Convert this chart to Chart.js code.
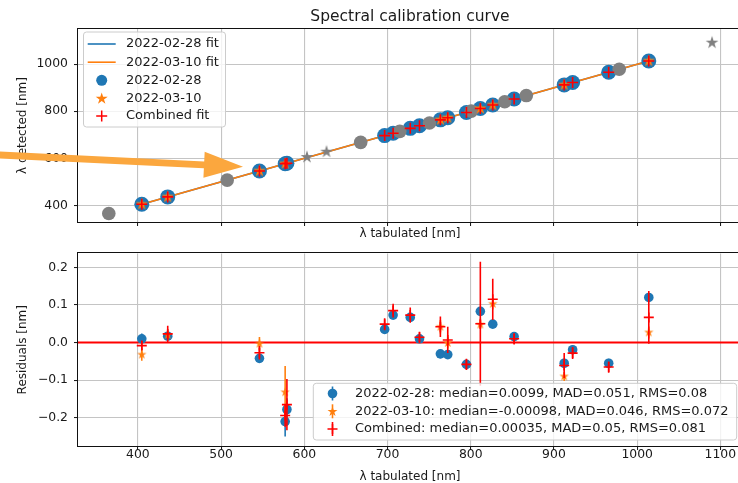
<!DOCTYPE html>
<html>
<head>
<meta charset="utf-8">
<script src="https://cdn.jsdelivr.net/npm/chart.js@4"></script>
<style>
  html, body { margin: 0; padding: 0; background: #fff; overflow: hidden; width: 738px; height: 483px; }
  #topChart { position: absolute; left: 0; top: 0; }
  #resChart { position: absolute; left: 0; top: 240px; }
</style>
</head>
<body>
<canvas id="topChart" width="750" height="240"></canvas>
<canvas id="resChart" width="750" height="243"></canvas>
<script>
// === Calibration lines (nm) ===
const linesA = [404.66, 435.83, 546.07, 576.96, 579.07, 696.54, 706.72, 727.29, 738.40, 763.51,
                772.38, 794.82, 811.53, 826.45, 852.14, 912.30, 922.45, 965.78, 1013.98];
const detectedA = [404.67, 435.85, 546.03, 576.75, 578.89, 696.58, 706.79, 727.36, 738.41, 763.48,
                   772.35, 794.76, 811.61, 826.50, 852.16, 912.25, 922.43, 965.73, 1014.10];
const linesB = [404.66, 435.83, 546.07, 576.96, 763.51, 772.38, 811.53, 826.45, 912.30, 1013.98];
const detectedB = [404.63, 435.85, 546.07, 576.83, 763.55, 772.38, 811.58, 826.55, 912.21, 1014.01];
const detectedC = [404.65, 435.85, 546.04, 576.77, 578.91, 696.59, 706.81, 727.36, 738.41, 763.55,
                   772.39, 794.76, 811.58, 826.57, 852.15, 912.24, 922.42, 965.72, 1014.05];
// lines found but not used in the fit
const unusedLines = [365.02, 507.30, 667.73, 714.70, 750.39, 800.62, 840.82, 866.79, 978.45];
const unusedDetected = [365.0, 507.3, 667.7, 714.7, 750.4, 800.6, 840.8, 866.8, 978.5];
const unusedStarLines = [603.21, 626.65, 1090.0];
const unusedStarDetected = [605, 628, 1092];
// fit lines
const fitRange = [404.66, 1013.98];
const fitA = [404.67, 1014.06];
const fitB = [404.64, 1014.02];

// === Residuals (nm) ===
const residA = [0.010, 0.017, -0.042, -0.210, -0.178, 0.035, 0.073, 0.067, 0.010, -0.030,
                -0.032, -0.058, 0.083, 0.049, 0.016, -0.055, -0.019, -0.055, 0.120];
const errA = [0.014, 0.010, 0.010, 0.040, 0.030, 0.010, 0.010, 0.012, 0.010, 0.012,
              0.010, 0.010, 0.012, 0.010, 0.012, 0.012, 0.012, 0.012, 0.012];
const residB = [-0.032, 0.020, -0.003, -0.132, 0.042, -0.001, 0.048, 0.103, -0.090, 0.027];
const errB = [0.016, 0.012, 0.018, 0.070, 0.018, 0.015, 0.012, 0.015, 0.012, 0.016];
const residC = [-0.008, 0.023, -0.027, -0.194, -0.165, 0.049, 0.085, 0.073, 0.014, 0.042,
                0.007, -0.058, 0.050, 0.115, 0.010, -0.061, -0.028, -0.065, 0.067];
const errC = [0.012, 0.022, 0.018, 0.030, 0.068, 0.016, 0.018, 0.020, 0.015, 0.027,
              0.035, 0.015, 0.165, 0.055, 0.015, 0.033, 0.016, 0.015, 0.070];

// === Axes ===
const xTicks = [400, 500, 600, 700, 800, 900, 1000, 1100];
const yTicksTop = [400, 600, 800, 1000];
const yTicksRes = [-0.2, -0.1, 0.0, 0.1, 0.2];
const xMin = 328, xMax = 1126;
const yTopMin = 329, yTopMax = 1150;
const yResMin = -0.275, yResMax = 0.237;

const labelA = "2022-02-28";
const labelB = "2022-03-10";
const statsA = "2022-02-28: median=0.0099, MAD=0.051, RMS=0.08";
const statsB = "2022-03-10: median=-0.00098, MAD=0.046, RMS=0.072";
const statsC = "Combined: median=0.00035, MAD=0.05, RMS=0.081";

// === Style ===
const BLUE = "#1f77b4", ORANGE = "#ff7f0e", RED = "#ff0000", GRAY = "#808080";
const TEXT = "#1a1a1a", GRID = "#c4c4c4";
const FONT = "'DejaVu Sans', sans-serif";
Chart.defaults.font.family = FONT;
Chart.defaults.color = TEXT;

const pts = (xs, ys) => xs.map((x, i) => ({ x: x, y: ys[i] }));

function starPath(ctx, cx, cy, r) {
  const inner = r * 0.381966;
  ctx.beginPath();
  for (let i = 0; i < 10; i++) {
    const rad = i % 2 ? inner : r;
    const a = -Math.PI / 2 + (i * Math.PI) / 5;
    ctx.lineTo(cx + rad * Math.cos(a), cy + rad * Math.sin(a));
  }
  ctx.closePath();
}

function starImage(r, color) {
  const c = document.createElement("canvas");
  const s = Math.ceil(2 * r + 2);
  c.width = c.height = s;
  const g = c.getContext("2d");
  starPath(g, s / 2, s / 2, r);
  g.fillStyle = color;
  g.fill();
  return c;
}

function crossPath(ctx, cx, cy, r) {
  ctx.beginPath();
  ctx.moveTo(cx - r, cy); ctx.lineTo(cx + r, cy);
  ctx.moveTo(cx, cy - r); ctx.lineTo(cx, cy + r);
}

function roundBox(ctx, x, y, w, h, r) {
  ctx.beginPath();
  ctx.moveTo(x + r, y);
  ctx.arcTo(x + w, y, x + w, y + h, r);
  ctx.arcTo(x + w, y + h, x, y + h, r);
  ctx.arcTo(x, y + h, x, y, r);
  ctx.arcTo(x, y, x + w, y, r);
  ctx.closePath();
}

// === Plugins ===
const errorBars = {
  id: "errorBars",
  beforeDatasetDraw(chart, args) {
    const ds = chart.data.datasets[args.index];
    if (!ds.errors) return;
    const { ctx, chartArea: a, scales: { x, y } } = chart;
    ctx.save();
    ctx.beginPath();
    ctx.rect(a.left, a.top, a.right - a.left, a.bottom - a.top);
    ctx.clip();
    ctx.strokeStyle = ds.errColor;
    ctx.lineWidth = 1.6;
    ds.data.forEach((p, i) => {
      const px = x.getPixelForValue(p.x);
      ctx.beginPath();
      ctx.moveTo(px, y.getPixelForValue(p.y - ds.errors[i]));
      ctx.lineTo(px, y.getPixelForValue(p.y + ds.errors[i]));
      ctx.stroke();
    });
    ctx.restore();
  },
};

function drawFrame(chart) {
  const { ctx, chartArea: a } = chart;
  ctx.save();
  ctx.strokeStyle = "#111";
  ctx.lineWidth = 1;
  ctx.strokeRect(Math.round(a.left) - 0.5, Math.round(a.top) - 0.5,
                 Math.round(a.right - a.left) + 1, Math.round(a.bottom - a.top) + 1);
  ctx.restore();
}

function drawLegend(ctx, box, items, fontSize) {
  ctx.save();
  roundBox(ctx, box.x, box.y, box.w, box.h, 3);
  ctx.fillStyle = "rgba(255,255,255,0.8)";
  ctx.fill();
  ctx.strokeStyle = "#cccccc";
  ctx.lineWidth = 1;
  ctx.stroke();
  ctx.font = fontSize + "px " + FONT;
  ctx.fillStyle = TEXT;
  ctx.textBaseline = "middle";
  items.forEach((it) => {
    it.handle(ctx, box.hx, it.y);
    ctx.fillStyle = TEXT;
    ctx.fillText(it.label, box.tx, it.y);
  });
  ctx.restore();
}

function xScale(showLabels, height) {
  return {
    type: "linear",
    min: xMin,
    max: xMax,
    bounds: "data",
    afterBuildTicks: (s) => { s.ticks = xTicks.map((v) => ({ value: v })); },
    afterFit: (s) => { s.height = height; },
    border: { display: false },
    grid: { color: GRID, lineWidth: 1.1, tickColor: "#111", tickLength: 4, tickWidth: 1 },
    ticks: { display: showLabels, font: { size: 12.4 }, color: TEXT, padding: -3, maxRotation: 0,
             callback: (v) => String(v) },
    title: { display: true, text: "λ tabulated [nm]", font: { size: 12 }, color: TEXT,
             padding: { top: 0, bottom: -1 } },
  };
}

function yScale(min, max, ticks, fmt, title) {
  return {
    type: "linear",
    min: min,
    max: max,
    bounds: "data",
    afterBuildTicks: (s) => { s.ticks = ticks.map((v) => ({ value: v })); },
    afterFit: (s) => { s.width = 78; },
    border: { display: false },
    grid: { color: GRID, lineWidth: 1.1, tickColor: "#111", tickLength: 4, tickWidth: 1 },
    ticks: { font: { size: 12.4 }, color: TEXT, padding: 6, callback: fmt },
    title: { display: true, text: title, font: { size: 12 }, color: TEXT,
             padding: { top: 15.8, bottom: 0 } },
  };
}

// === Top panel: calibration curve ===
const starTop = starImage(6.5, ORANGE);
const starGray = starImage(6.7, GRAY);

const topDecor = {
  id: "topDecor",
  afterDatasetsDraw(chart) {
    const { ctx, chartArea: a } = chart;
    drawFrame(chart);
    drawLegend(ctx, { x: 83.5, y: 32, w: 142, h: 95, hx: 101.7, tx: 126 }, [
      { y: 44, label: labelA + " fit", handle: (c, x, y) => {
          c.strokeStyle = BLUE; c.lineWidth = 1.6;
          c.beginPath(); c.moveTo(x - 14, y); c.lineTo(x + 14, y); c.stroke(); } },
      { y: 62.2, label: labelB + " fit", handle: (c, x, y) => {
          c.strokeStyle = ORANGE; c.lineWidth = 1.6;
          c.beginPath(); c.moveTo(x - 14, y); c.lineTo(x + 14, y); c.stroke(); } },
      { y: 80.3, label: labelA, handle: (c, x, y) => {
          c.fillStyle = BLUE; c.beginPath(); c.arc(x, y, 5.5, 0, Math.PI * 2); c.fill(); } },
      { y: 98.2, label: labelB, handle: (c, x, y) => {
          starPath(c, x, y + 0.5, 6.3); c.fillStyle = ORANGE; c.fill(); } },
      { y: 116, label: "Combined fit", handle: (c, x, y) => {
          c.strokeStyle = RED; c.lineWidth = 1.5; crossPath(c, x, y, 5.5); c.stroke(); } },
    ], 13);
    // title
    ctx.save();
    ctx.font = "15.5px " + FONT;
    ctx.fillStyle = TEXT;
    ctx.textAlign = "center";
    ctx.textBaseline = "middle";
    ctx.fillText("Spectral calibration curve", (a.left + a.right) / 2, 16.5);
    ctx.restore();
  },
  afterDraw(chart) {
    // orange annotation arrow
    const ctx = chart.ctx;
    const x0 = 0, y0 = 155, x1 = 243, y1 = 166.7;
    const len = Math.hypot(x1 - x0, y1 - y0);
    const dx = (x1 - x0) / len, dy = (y1 - y0) / len;
    const nx = -dy, ny = dx;
    const hw = 3.4, headLen = 39, headW = 13;
    const bx = x1 - dx * headLen, by = y1 - dy * headLen;
    ctx.save();
    ctx.fillStyle = "rgb(251,167,62)";
    ctx.beginPath();
    ctx.moveTo(x0 - dx * 2 + nx * hw, y0 - dy * 2 + ny * hw);
    ctx.lineTo(bx + nx * hw, by + ny * hw);
    ctx.lineTo(bx + nx * headW, by + ny * headW);
    ctx.lineTo(x1, y1);
    ctx.lineTo(bx - nx * headW, by - ny * headW);
    ctx.lineTo(bx - nx * hw, by - ny * hw);
    ctx.lineTo(x0 - dx * 2 - nx * hw, y0 - dy * 2 - ny * hw);
    ctx.closePath();
    ctx.fill();
    ctx.restore();
  },
};

new Chart(document.getElementById("topChart"), {
  type: "scatter",
  data: {
    datasets: [
      { type: "line", data: pts(fitRange, fitA), borderColor: BLUE, borderWidth: 1.6,
        pointRadius: 0, showLine: true, order: 7 },
      { type: "line", data: pts(fitRange, fitB), borderColor: ORANGE, borderWidth: 1.6,
        pointRadius: 0, showLine: true, order: 6 },
      { data: pts(linesA, detectedA), pointStyle: "circle", pointRadius: 7.5,
        backgroundColor: BLUE, borderWidth: 0, order: 5 },
      { data: pts(unusedLines, unusedDetected), pointStyle: "circle", pointRadius: 6.8,
        backgroundColor: GRAY, borderWidth: 0, order: 4 },
      { data: pts(unusedStarLines, unusedStarDetected), pointStyle: starGray, pointRadius: 7,
        order: 3 },
      { data: pts(linesB, detectedB), pointStyle: starTop, pointRadius: 7, order: 2 },
      { data: pts(linesA, detectedC), pointStyle: "cross", pointRadius: 5.5,
        borderColor: RED, borderWidth: 1.6, order: 1 },
    ],
  },
  options: {
    responsive: false,
    animation: false,
    events: [],
    layout: { padding: { top: 29, right: 8, left: 0, bottom: 0 } },
    scales: {
      x: xScale(false, 18),
      y: yScale(yTopMin, yTopMax, yTicksTop, (v) => String(v), "λ detected [nm]"),
    },
    plugins: { legend: { display: false }, title: { display: false }, tooltip: { enabled: false } },
  },
  plugins: [topDecor],
});

// === Bottom panel: residuals ===
const starRes = starImage(5, ORANGE);

const resDecor = {
  id: "resDecor",
  beforeDatasetsDraw(chart) {
    const { ctx, chartArea: a, scales: { y } } = chart;
    const py = y.getPixelForValue(0);
    ctx.save();
    ctx.strokeStyle = RED;
    ctx.lineWidth = 2;
    ctx.beginPath();
    ctx.moveTo(a.left, py);
    ctx.lineTo(a.right, py);
    ctx.stroke();
    ctx.restore();
  },
  afterDatasetsDraw(chart) {
    drawFrame(chart);
    const bar = (c, x, y, color) => {
      c.strokeStyle = color; c.lineWidth = 1.6;
      c.beginPath(); c.moveTo(x, y - 7); c.lineTo(x, y + 7); c.stroke();
    };
    drawLegend(chart.ctx, { x: 313.3, y: 143.3, w: 423.4, h: 56.7, hx: 332.5, tx: 355 }, [
      { y: 153.5, label: statsA, handle: (c, x, y) => {
          bar(c, x, y, BLUE);
          c.fillStyle = BLUE; c.beginPath(); c.arc(x, y, 4.8, 0, Math.PI * 2); c.fill(); } },
      { y: 171.3, label: statsB, handle: (c, x, y) => {
          bar(c, x, y, ORANGE);
          starPath(c, x, y + 0.4, 5.2); c.fillStyle = ORANGE; c.fill(); } },
      { y: 189, label: statsC, handle: (c, x, y) => {
          bar(c, x, y, RED);
          c.strokeStyle = RED; c.lineWidth = 1.5; crossPath(c, x, y, 5); c.stroke(); } },
    ], 13);
  },
};

new Chart(document.getElementById("resChart"), {
  type: "scatter",
  data: {
    datasets: [
      { data: pts(linesA, residA), errors: errA, errColor: BLUE, pointStyle: "circle",
        pointRadius: 4.8, backgroundColor: BLUE, borderWidth: 0, order: 3 },
      { data: pts(linesB, residB), errors: errB, errColor: ORANGE, pointStyle: starRes,
        pointRadius: 5, order: 2 },
      { data: pts(linesA, residC), errors: errC, errColor: RED, pointStyle: "cross",
        pointRadius: 5, borderColor: RED, borderWidth: 1.6, order: 1 },
    ],
  },
  options: {
    responsive: false,
    animation: false,
    events: [],
    layout: { padding: { top: 12.7, right: 8, left: 0, bottom: 0 } },
    scales: {
      x: xScale(true, 37),
      y: yScale(yResMin, yResMax, yTicksRes,
        (v) => (v < 0 ? "\u2212" : "") + Math.abs(v).toFixed(1), "Residuals [nm]"),
    },
    plugins: { legend: { display: false }, title: { display: false }, tooltip: { enabled: false } },
  },
  plugins: [errorBars, resDecor],
});
</script>
</body>
</html>
